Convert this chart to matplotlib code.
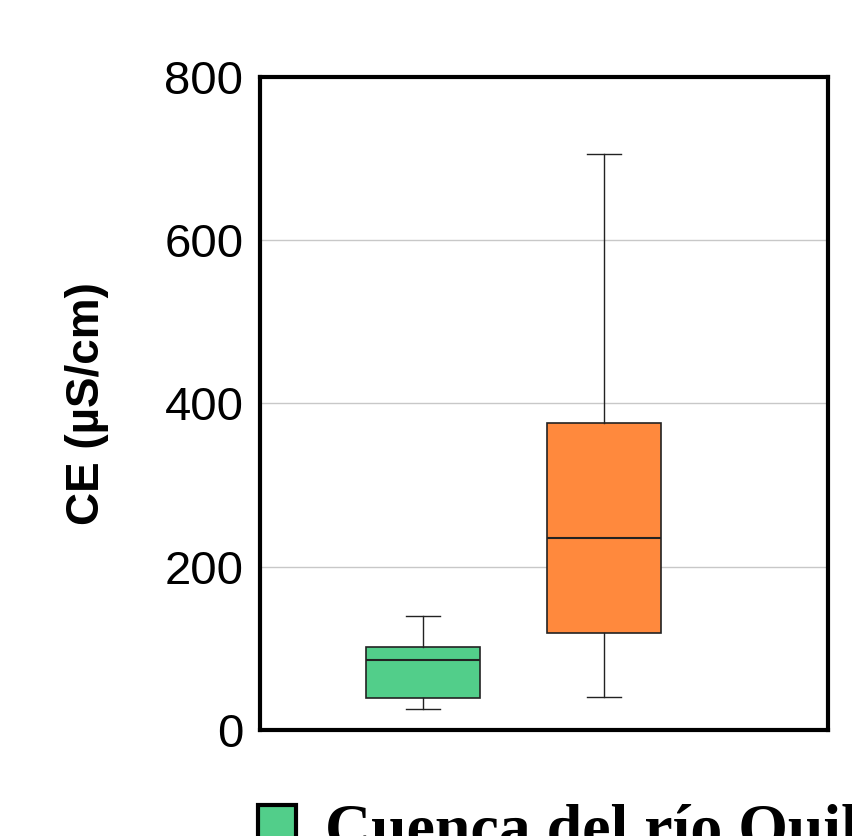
import matplotlib
matplotlib.use('Agg')
import matplotlib.pyplot as plt
from matplotlib.patches import Patch

# Box statistics (CE, uS/cm)
groups = ['Cuenca del río Quilca', 'Otra']
whisker_low = [26, 40]
q1 = [39, 119]
median = [86, 235]
q3 = [102, 376]
whisker_high = [140, 705]
colors = ['#52CE8A', '#FF893D']
yticks = [0, 200, 400, 600, 800]

fig = plt.figure(figsize=(8.53, 8.36), dpi=100)
ax = fig.add_axes([0.305, 0.127, 0.666, 0.781])

stats = []
for i, g in enumerate(groups):
    stats.append({'label': g, 'whislo': whisker_low[i], 'q1': q1[i], 'med': median[i],
                  'q3': q3[i], 'whishi': whisker_high[i], 'fliers': []})

bp = ax.bxp(stats, positions=[1, 2], widths=0.63, patch_artist=True, showfliers=False,
            boxprops=dict(linewidth=1.2, edgecolor='#222222'),
            medianprops=dict(color='#222222', linewidth=1.5),
            whiskerprops=dict(color='#222222', linewidth=1.0),
            capprops=dict(color='#222222', linewidth=1.0), capwidths=0.19)
for box, c in zip(bp['boxes'], colors):
    box.set_facecolor(c)

ax.set_xlim(0.1, 3.24)
ax.set_ylim(0, 800)
ax.set_yticks(yticks)
ax.set_xticks([])
ax.tick_params(axis='y', length=0, labelsize=34, pad=12)
for lab in ax.get_yticklabels():
    lab.set_fontfamily('Liberation Sans')
ax.yaxis.grid(True, color='#c8c8c8', linewidth=1.0)
ax.set_axisbelow(True)
for sp in ax.spines.values():
    sp.set_linewidth(3)

ax.set_ylabel('CE (µS/cm)', fontsize=33, fontweight='bold', family='Liberation Sans', labelpad=40)

handle = Patch(facecolor=colors[0], edgecolor='black', linewidth=3)
fig.legend(handles=[handle], labels=[groups[0]], loc='upper left',
           bbox_to_anchor=(0.302, 0.038), frameon=False,
           prop={'family': 'Liberation Serif', 'weight': 'bold', 'size': 46},
           handlelength=0.6, handleheight=0.6, handletextpad=0.45, borderaxespad=0,
           borderpad=0)

fig.savefig('out.png', dpi=100)
